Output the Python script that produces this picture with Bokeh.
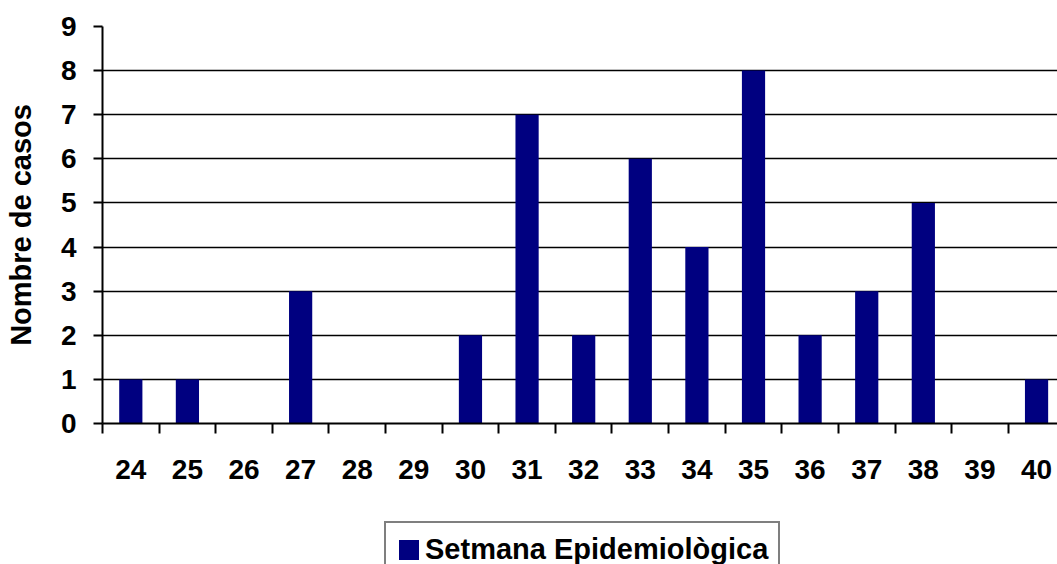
from bokeh.plotting import figure
from bokeh.models import Range1d, FixedTicker, Legend, LegendItem
from bokeh.layouts import column
from bokeh.embed import file_html
from bokeh.resources import INLINE

weeks = [24, 25, 26, 27, 28, 29, 30, 31, 32, 33, 34, 35, 36, 37, 38, 39, 40]
cases = [1, 1, 0, 3, 0, 0, 2, 7, 2, 6, 4, 8, 2, 3, 5, 0, 1]
y_ticks = [0, 1, 2, 3, 4, 5, 6, 7, 8, 9]
series_name = "Setmana Epidemiològica"
y_label = "Nombre de casos"

FONT = "Liberation Sans"
NAVY = "#000080"

p = figure(width=1057, height=494, output_backend="svg", toolbar_location=None,
           x_range=Range1d(23.5, 40.37), y_range=Range1d(0, 9),
           min_border_left=102, min_border_right=0, min_border_top=26,
           min_border_bottom=71)
p.outline_line_color = None

r = p.vbar(x=weeks, top=cases, width=0.41, fill_color=NAVY, line_color=None)

# x axis: labels at category centres, tick marks at boundaries (minor ticks)
boundaries = [w - 0.5 for w in weeks] + [weeks[-1] + 0.5]
p.xaxis.ticker = FixedTicker(ticks=weeks, minor_ticks=boundaries)
p.xaxis.major_tick_out = 0
p.xaxis.major_tick_in = 0
p.xaxis.minor_tick_out = 10
p.xaxis.minor_tick_in = 0
p.xaxis.minor_tick_line_color = "black"
p.xaxis.minor_tick_line_width = 2
p.xaxis.axis_line_width = 2
p.xaxis.axis_line_color = "black"
p.xaxis.major_label_text_font = FONT
p.xaxis.major_label_text_font_style = "bold"
p.xaxis.major_label_text_font_size = "28px"
p.xaxis.major_label_text_color = "black"
p.xaxis.major_label_standoff = 26

p.yaxis.ticker = FixedTicker(ticks=y_ticks)
p.yaxis.minor_tick_line_color = None
p.yaxis.major_tick_out = 9
p.yaxis.major_tick_in = 0
p.yaxis.major_tick_line_width = 2
p.yaxis.major_tick_line_color = "black"
p.yaxis.axis_line_width = 2
p.yaxis.axis_line_color = "black"
p.yaxis.major_label_text_font = FONT
p.yaxis.major_label_text_font_style = "bold"
p.yaxis.major_label_text_font_size = "28px"
p.yaxis.major_label_text_color = "black"
p.yaxis.major_label_standoff = 17
p.yaxis.axis_label = y_label
p.yaxis.axis_label_text_font = FONT
p.yaxis.axis_label_text_font_style = "bold"
p.yaxis.axis_label_text_font_size = "29px"
p.yaxis.axis_label_text_color = "black"
p.yaxis.axis_label_standoff = 21

p.xgrid.grid_line_color = None
p.ygrid.ticker = FixedTicker(ticks=y_ticks)
p.ygrid.grid_line_color = "black"
p.ygrid.grid_line_width = 1.5
p.ygrid.grid_line_alpha = 1.0

# legend strip below the chart (its frame is aligned with the chart's frame)
p2 = figure(width=1057, height=70, output_backend="svg", toolbar_location=None,
            x_range=Range1d(0, 1), y_range=Range1d(0, 1),
            x_axis_location=None, y_axis_location=None, min_border=0)
p2.outline_line_color = None
p2.xgrid.grid_line_color = None
p2.ygrid.grid_line_color = None
# same series, outside this strip's visible range: only feeds the legend swatch
r2 = p2.vbar(x=weeks, top=cases, width=0.41, fill_color=NAVY, line_color=None)

legend = Legend(items=[LegendItem(label=series_name, renderers=[r2])],
                location=(282, -14), orientation="horizontal")
legend.label_text_font = FONT
legend.label_text_font_style = "bold"
legend.label_text_font_size = "29px"
legend.label_text_color = "black"
legend.glyph_width = 25
legend.glyph_height = 25
legend.label_standoff = 4
legend.padding = 10
legend.margin = 0
legend.border_line_color = "black"
legend.border_line_width = 2
legend.background_fill_color = "white"
legend.background_fill_alpha = 1.0
p2.add_layout(legend, "center")

layout = column(p, p2, spacing=0)
open("out.html", "w").write(file_html(layout, INLINE))
